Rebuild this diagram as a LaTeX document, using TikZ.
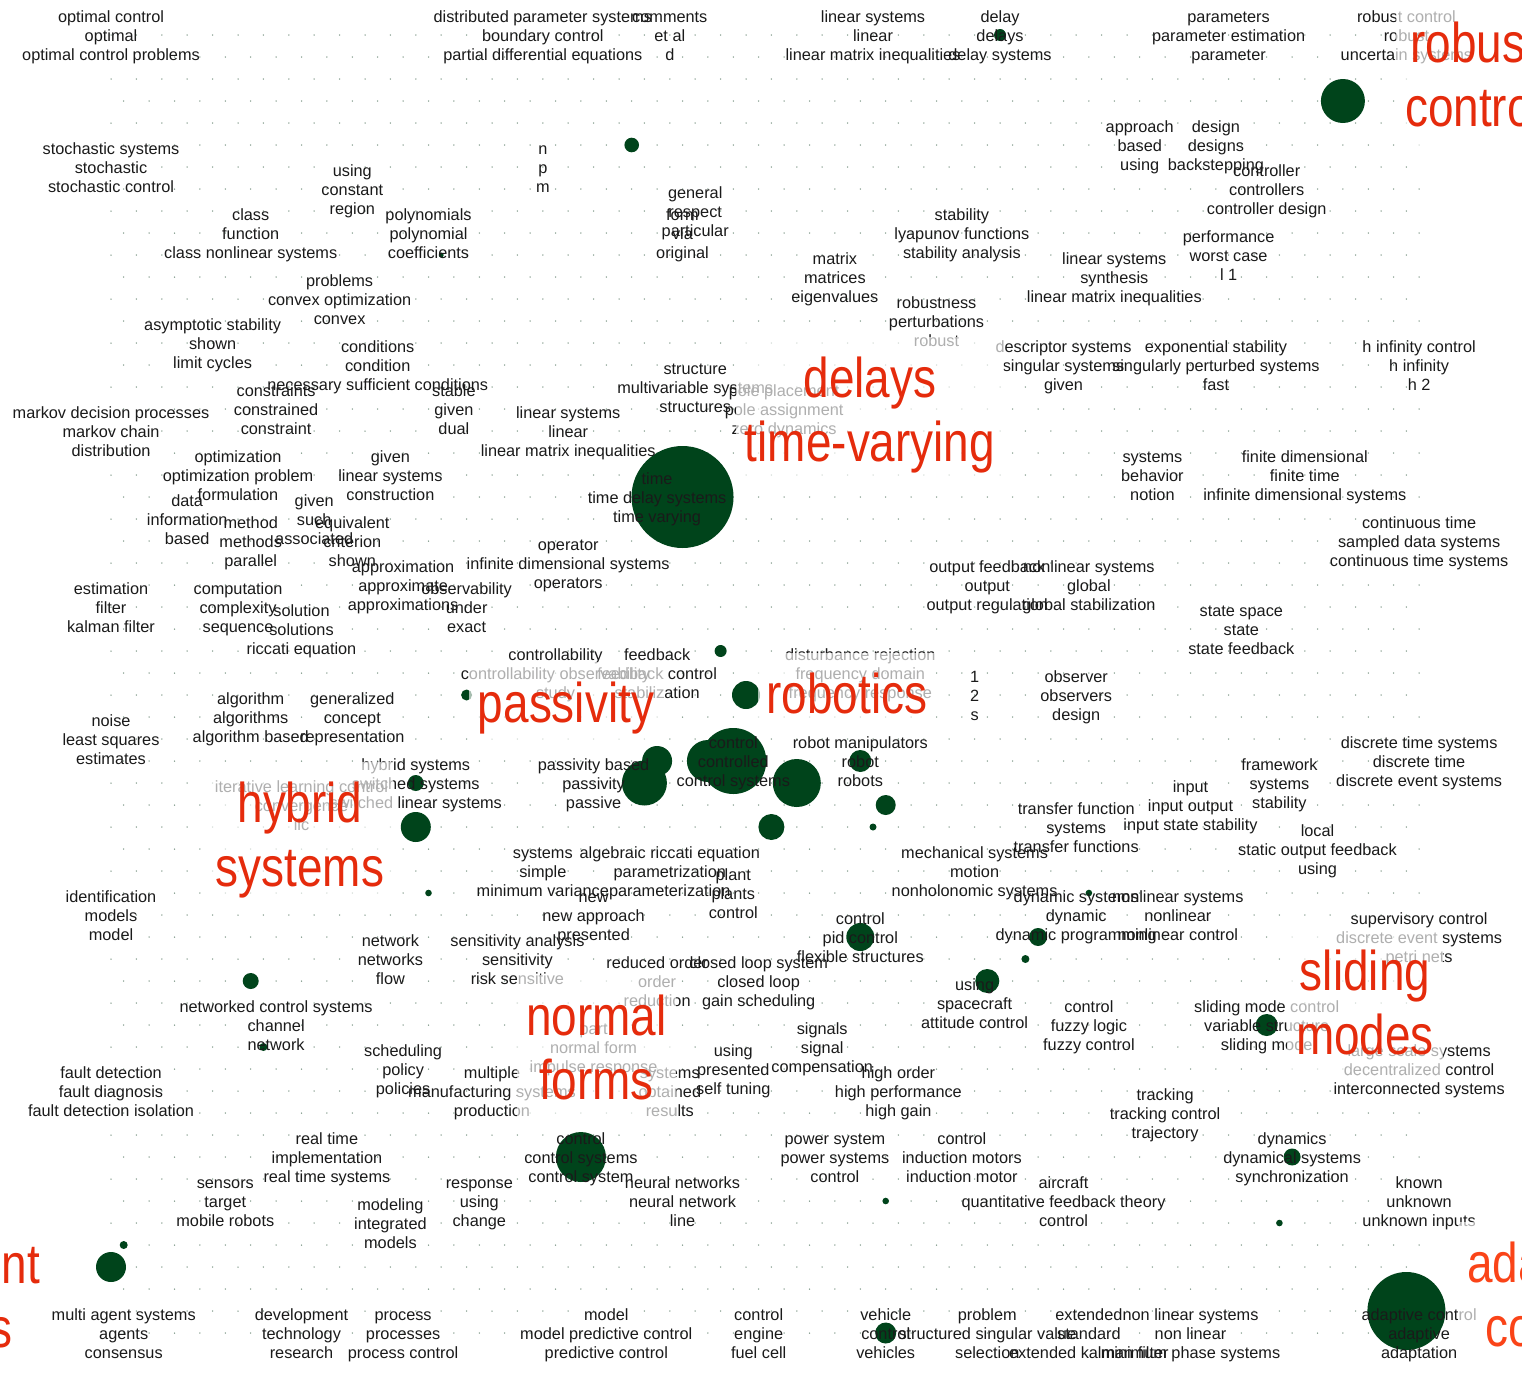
\documentclass[tikz,border=0pt]{standalone}
\usepackage{fontspec}
\setmainfont{Liberation Sans}
\newfontfamily\topicfont{Liberation Sans}[FakeStretch=0.82]
\definecolor{ink}{HTML}{1A1A1A}
\definecolor{blob}{HTML}{00441B}
\definecolor{gridpt}{HTML}{7A9484}
\definecolor{topic}{HTML}{E52B0C}
\definecolor{topicb}{HTML}{FA4418}
% line struts: small term lines (13 up, 4 down) and topic lines (51 up, 12 down)
\newcommand\ls{\rule[-4pt]{0pt}{17pt}}
\newcommand\rs{\rule[-12pt]{0pt}{63pt}}
\newcommand\tri[3]{\ls #1\\\ls #2\\\ls #3}
\tikzset{
  tri/.style={align=center, inner sep=0pt, text=ink,
    font=\fontsize{16.3}{19}\selectfont, yshift=-2.3pt},
  topiclabel/.style={anchor=north, align=center, inner sep=9pt,
    fill=white, fill opacity=0.65, text opacity=1, text=topic,
    font=\topicfont\fontsize{56}{64}\selectfont},
  bubble/.style={fill=blob},
}
\begin{document}
\begin{tikzpicture}[x=1pt,y=-1pt]
\fill[white] (0,0) rectangle (1522,1373);
\useasboundingbox (0,0) rectangle (1522,1373);

% hexagonal lattice of term positions
\foreach \r in {0,...,59}{
  \foreach \c in {0,...,51}{
    \pgfmathsetmacro\xx{111+25.4*\c+12.7*mod(\r,2)}
    \pgfmathsetmacro\yy{35+22*\r}
    \coordinate (g-\r-\c) at (\xx,\yy);
    \fill[gridpt] (g-\r-\c) circle (0.75);
  }
}

% bubbles
\foreach \r/\c/\rad in {0/35/6, 3/48/22, 5/20/7.3, 10/13/2.5, 21/22/51,
  28/24/6, 30/14/5.5, 30/25/14, 33/21/15, 34/21/22.5, 33/23/21, 33/24/33,
  34/27/24, 33/29/11, 35/30/10, 36/26/13, 36/30/3.5, 34/12/8, 36/12/15,
  39/12/3.3, 39/38/3.3, 41/29/14, 41/36/9, 42/36/4, 43/34/12, 43/5/8,
  46/6/4, 45/45/11, 51/18/25, 53/30/3.3, 51/46/8.5, 54/46/3.3, 55/0/4,
  56/0/15, 59/30/10.5, 58/51/39}
  \fill[bubble] (g-\r-\c) circle (\rad);

% term triples
\node[tri] (t1) at (g-0-0) {\tri{optimal control}{optimal}{optimal control problems}};
\node[tri] (t2) at (g-0-17) {\tri{distributed parameter systems}{boundary control}{partial differential equations}};
\node[tri] (t3) at (g-0-22) {\tri{comments}{et al}{d}};
\node[tri] (t4) at (g-0-30) {\tri{linear systems}{linear}{linear matrix inequalities}};
\node[tri] (t5) at (g-0-35) {\tri{delay}{delays}{delay systems}};
\node[tri] (t6) at (g-0-44) {\tri{parameters}{parameter estimation}{parameter}};
\node[tri] (t7) at (g-0-51) {\tri{robust control}{robust}{uncertain systems}};
\node[tri] (t8) at (g-5-40) {\tri{approach}{based}{using}};
\node[tri] (t9) at (g-5-43) {\tri{design}{designs}{backstepping}};
\node[tri] (t10) at (g-6-0) {\tri{stochastic systems}{stochastic}{stochastic control}};
\node[tri] (t11) at (g-6-17) {\tri{n}{p}{m}};
\node[tri] (t12) at (g-7-9) {\tri{using}{constant}{region}};
\node[tri] (t13) at (g-7-45) {\tri{controller}{controllers}{controller design}};
\node[tri] (t14) at (g-8-23) {\tri{general}{respect}{particular}};
\node[tri] (t15) at (g-9-5) {\tri{class}{function}{class nonlinear systems}};
\node[tri] (t16) at (g-9-12) {\tri{polynomials}{polynomial}{coefficients}};
\node[tri] (t17) at (g-9-22) {\tri{form}{via}{original}};
\node[tri] (t18) at (g-9-33) {\tri{stability}{lyapunov functions}{stability analysis}};
\node[tri] (t19) at (g-10-44) {\tri{performance}{worst case}{l 1}};
\node[tri] (t20) at (g-11-28) {\tri{matrix}{matrices}{eigenvalues}};
\node[tri] (t21) at (g-11-39) {\tri{linear systems}{synthesis}{linear matrix inequalities}};
\node[tri] (t22) at (g-12-9) {\tri{problems}{convex optimization}{convex}};
\node[tri] (t23) at (g-13-32) {\tri{robustness}{perturbations}{robust}};
\node[tri] (t24) at (g-14-4) {\tri{asymptotic stability}{shown}{limit cycles}};
\node[tri] (t25) at (g-15-10) {\tri{conditions}{condition}{necessary sufficient conditions}};
\node[tri] (t26) at (g-15-37) {\tri{descriptor systems}{singular systems}{given}};
\node[tri] (t27) at (g-15-43) {\tri{exponential stability}{singularly perturbed systems}{fast}};
\node[tri] (t28) at (g-15-51) {\tri{h infinity control}{h infinity}{h 2}};
\node[tri] (t29) at (g-16-23) {\tri{structure}{multivariable systems}{structures}};
\node[tri] (t30) at (g-17-6) {\tri{constraints}{constrained}{constraint}};
\node[tri] (t31) at (g-17-13) {\tri{stable}{given}{dual}};
\node[tri] (t32) at (g-17-26) {\tri{pole placement}{pole assignment}{zero dynamics}};
\node[tri] (t33) at (g-18-0) {\tri{markov decision processes}{markov chain}{distribution}};
\node[tri] (t34) at (g-18-18) {\tri{linear systems}{linear}{linear matrix inequalities}};
\node[tri] (t35) at (g-20-5) {\tri{optimization}{optimization problem}{formulation}};
\node[tri] (t36) at (g-20-11) {\tri{given}{linear systems}{construction}};
\node[tri] (t37) at (g-20-41) {\tri{systems}{behavior}{notion}};
\node[tri] (t38) at (g-20-47) {\tri{finite dimensional}{finite time}{infinite dimensional systems}};
\node[tri] (t39) at (g-21-21) {\tri{time}{time delay systems}{time varying}};
\node[tri] (t40) at (g-22-3) {\tri{data}{information}{based}};
\node[tri] (t41) at (g-22-8) {\tri{given}{such}{associated}};
\node[tri] (t42) at (g-23-5) {\tri{method}{methods}{parallel}};
\node[tri] (t43) at (g-23-9) {\tri{equivalent}{criterion}{shown}};
\node[tri] (t44) at (g-23-51) {\tri{continuous time}{sampled data systems}{continuous time systems}};
\node[tri] (t45) at (g-24-18) {\tri{operator}{infinite dimensional systems}{operators}};
\node[tri] (t46) at (g-25-11) {\tri{approximation}{approximate}{approximations}};
\node[tri] (t47) at (g-25-34) {\tri{output feedback}{output}{output regulation}};
\node[tri] (t48) at (g-25-38) {\tri{nonlinear systems}{global}{global stabilization}};
\node[tri] (t49) at (g-26-0) {\tri{estimation}{filter}{kalman filter}};
\node[tri] (t50) at (g-26-5) {\tri{computation}{complexity}{sequence}};
\node[tri] (t51) at (g-26-14) {\tri{observability}{under}{exact}};
\node[tri] (t52) at (g-27-7) {\tri{solution}{solutions}{riccati equation}};
\node[tri] (t53) at (g-27-44) {\tri{state space}{state}{state feedback}};
\node[tri] (t54) at (g-29-17) {\tri{controllability}{controllability observability}{study}};
\node[tri] (t55) at (g-29-21) {\tri{feedback}{feedback control}{stabilization}};
\node[tri] (t56) at (g-29-29) {\tri{disturbance rejection}{frequency domain}{frequency response}};
\node[tri] (t57) at (g-30-34) {\tri{1}{2}{s}};
\node[tri] (t58) at (g-30-38) {\tri{observer}{observers}{design}};
\node[tri] (t59) at (g-31-5) {\tri{algorithm}{algorithms}{algorithm based}};
\node[tri] (t60) at (g-31-9) {\tri{generalized}{concept}{representation}};
\node[tri] (t61) at (g-32-0) {\tri{noise}{least squares}{estimates}};
\node[tri] (t62) at (g-33-24) {\tri{control}{controlled}{control systems}};
\node[tri] (t63) at (g-33-29) {\tri{robot manipulators}{robot}{robots}};
\node[tri] (t64) at (g-33-51) {\tri{discrete time systems}{discrete time}{discrete event systems}};
\node[tri] (t65) at (g-34-12) {\tri{hybrid systems}{switched systems}{switched linear systems}};
\node[tri] (t66) at (g-34-19) {\tri{passivity based}{passivity}{passive}};
\node[tri] (t67) at (g-34-46) {\tri{framework}{systems}{stability}};
\node[tri] (t68) at (g-35-7) {\tri{iterative learning control}{convergence}{ilc}};
\node[tri] (t69) at (g-35-42) {\tri{input}{input output}{input state stability}};
\node[tri] (t70) at (g-36-38) {\tri{transfer function}{systems}{transfer functions}};
\node[tri] (t71) at (g-37-47) {\tri{local}{static output feedback}{using}};
\node[tri] (t72) at (g-38-17) {\tri{systems}{simple}{minimum variance}};
\node[tri] (t73) at (g-38-22) {\tri{algebraic riccati equation}{parametrization}{parameterization}};
\node[tri] (t74) at (g-38-34) {\tri{mechanical systems}{motion}{nonholonomic systems}};
\node[tri] (t75) at (g-39-24) {\tri{plant}{plants}{control}};
\node[tri] (t76) at (g-40-0) {\tri{identification}{models}{model}};
\node[tri] (t77) at (g-40-19) {\tri{new}{new approach}{presented}};
\node[tri] (t78) at (g-40-38) {\tri{dynamic systems}{dynamic}{dynamic programming}};
\node[tri] (t79) at (g-40-42) {\tri{nonlinear systems}{nonlinear}{nonlinear control}};
\node[tri] (t80) at (g-41-29) {\tri{control}{pid control}{flexible structures}};
\node[tri] (t81) at (g-41-51) {\tri{supervisory control}{discrete event systems}{petri nets}};
\node[tri] (t82) at (g-42-11) {\tri{network}{networks}{flow}};
\node[tri] (t83) at (g-42-16) {\tri{sensitivity analysis}{sensitivity}{risk sensitive}};
\node[tri] (t84) at (g-43-21) {\tri{reduced order}{order}{reduction}};
\node[tri] (t85) at (g-43-25) {\tri{closed loop system}{closed loop}{gain scheduling}};
\node[tri] (t86) at (g-44-34) {\tri{using}{spacecraft}{attitude control}};
\node[tri] (t87) at (g-45-6) {\tri{networked control systems}{channel}{network}};
\node[tri] (t88) at (g-45-38) {\tri{control}{fuzzy logic}{fuzzy control}};
\node[tri] (t89) at (g-45-45) {\tri{sliding mode control}{variable structure}{sliding mode}};
\node[tri] (t90) at (g-46-19) {\tri{part}{normal form}{impulse response}};
\node[tri] (t91) at (g-46-28) {\tri{signals}{signal}{compensation}};
\node[tri] (t92) at (g-47-11) {\tri{scheduling}{policy}{policies}};
\node[tri] (t93) at (g-47-24) {\tri{using}{presented}{self tuning}};
\node[tri] (t94) at (g-47-51) {\tri{large scale systems}{decentralized control}{interconnected systems}};
\node[tri] (t95) at (g-48-0) {\tri{fault detection}{fault diagnosis}{fault detection isolation}};
\node[tri] (t96) at (g-48-15) {\tri{multiple}{manufacturing systems}{production}};
\node[tri] (t97) at (g-48-22) {\tri{systems}{obtained}{results}};
\node[tri] (t98) at (g-48-31) {\tri{high order}{high performance}{high gain}};
\node[tri] (t99) at (g-49-41) {\tri{tracking}{tracking control}{trajectory}};
\node[tri] (t100) at (g-51-8) {\tri{real time}{implementation}{real time systems}};
\node[tri] (t101) at (g-51-18) {\tri{control}{control systems}{control system}};
\node[tri] (t102) at (g-51-28) {\tri{power system}{power systems}{control}};
\node[tri] (t103) at (g-51-33) {\tri{control}{induction motors}{induction motor}};
\node[tri] (t104) at (g-51-46) {\tri{dynamics}{dynamical systems}{synchronization}};
\node[tri] (t105) at (g-53-4) {\tri{sensors}{target}{mobile robots}};
\node[tri] (t106) at (g-53-14) {\tri{response}{using}{change}};
\node[tri] (t107) at (g-53-22) {\tri{neural networks}{neural network}{line}};
\node[tri] (t108) at (g-53-37) {\tri{aircraft}{quantitative feedback theory}{control}};
\node[tri] (t109) at (g-53-51) {\tri{known}{unknown}{unknown inputs}};
\node[tri] (t110) at (g-54-11) {\tri{modeling}{integrated}{models}};
\node[tri] (t111) at (g-59-0) {\tri{multi agent systems}{agents}{consensus}};
\node[tri] (t112) at (g-59-7) {\tri{development}{technology}{research}};
\node[tri] (t113) at (g-59-11) {\tri{process}{processes}{process control}};
\node[tri] (t114) at (g-59-19) {\tri{model}{model predictive control}{predictive control}};
\node[tri] (t115) at (g-59-25) {\tri{control}{engine}{fuel cell}};
\node[tri] (t116) at (g-59-30) {\tri{vehicle}{control}{vehicles}};
\node[tri] (t117) at (g-59-34) {\tri{problem}{structured singular value}{selection}};
\node[tri] (t118) at (g-59-38) {\tri{extended}{standard}{extended kalman filter}};
\node[tri] (t119) at (g-59-42) {\tri{non linear systems}{non linear}{minimum phase systems}};
\node[tri] (t120) at (g-59-51) {\tri{adaptive control}{adaptive}{adaptation}};

% topic labels on translucent white plates
\node[topiclabel] (tp-robust) at (1474,2) {\rs robust\\\rs control};
\node[topiclabel] (tp-delays) at (870,337) {\rs delays\\\rs time-varying};
\node[topiclabel] (tp-passivity) at (566,662) {\rs passivity};
\node[topiclabel] (tp-robotics) at (847,653) {\rs robotics};
\node[topiclabel] (tp-hybrid) at (300,762) {\rs hybrid\\\rs systems};
\node[topiclabel] (tp-normal) at (596.5,975) {\rs normal\\\rs forms};
\node[topiclabel] (tp-sliding) at (1365,930) {\rs sliding\\\rs modes};
\node[topiclabel] (tp-agents) at (-72,1223) {\rs multi agent\\\rs systems};
\node[topiclabel, text=topicb] (tp-adaptive) at (1554,1222) {\rs adaptive\\\rs control};
\end{tikzpicture}
\end{document}
